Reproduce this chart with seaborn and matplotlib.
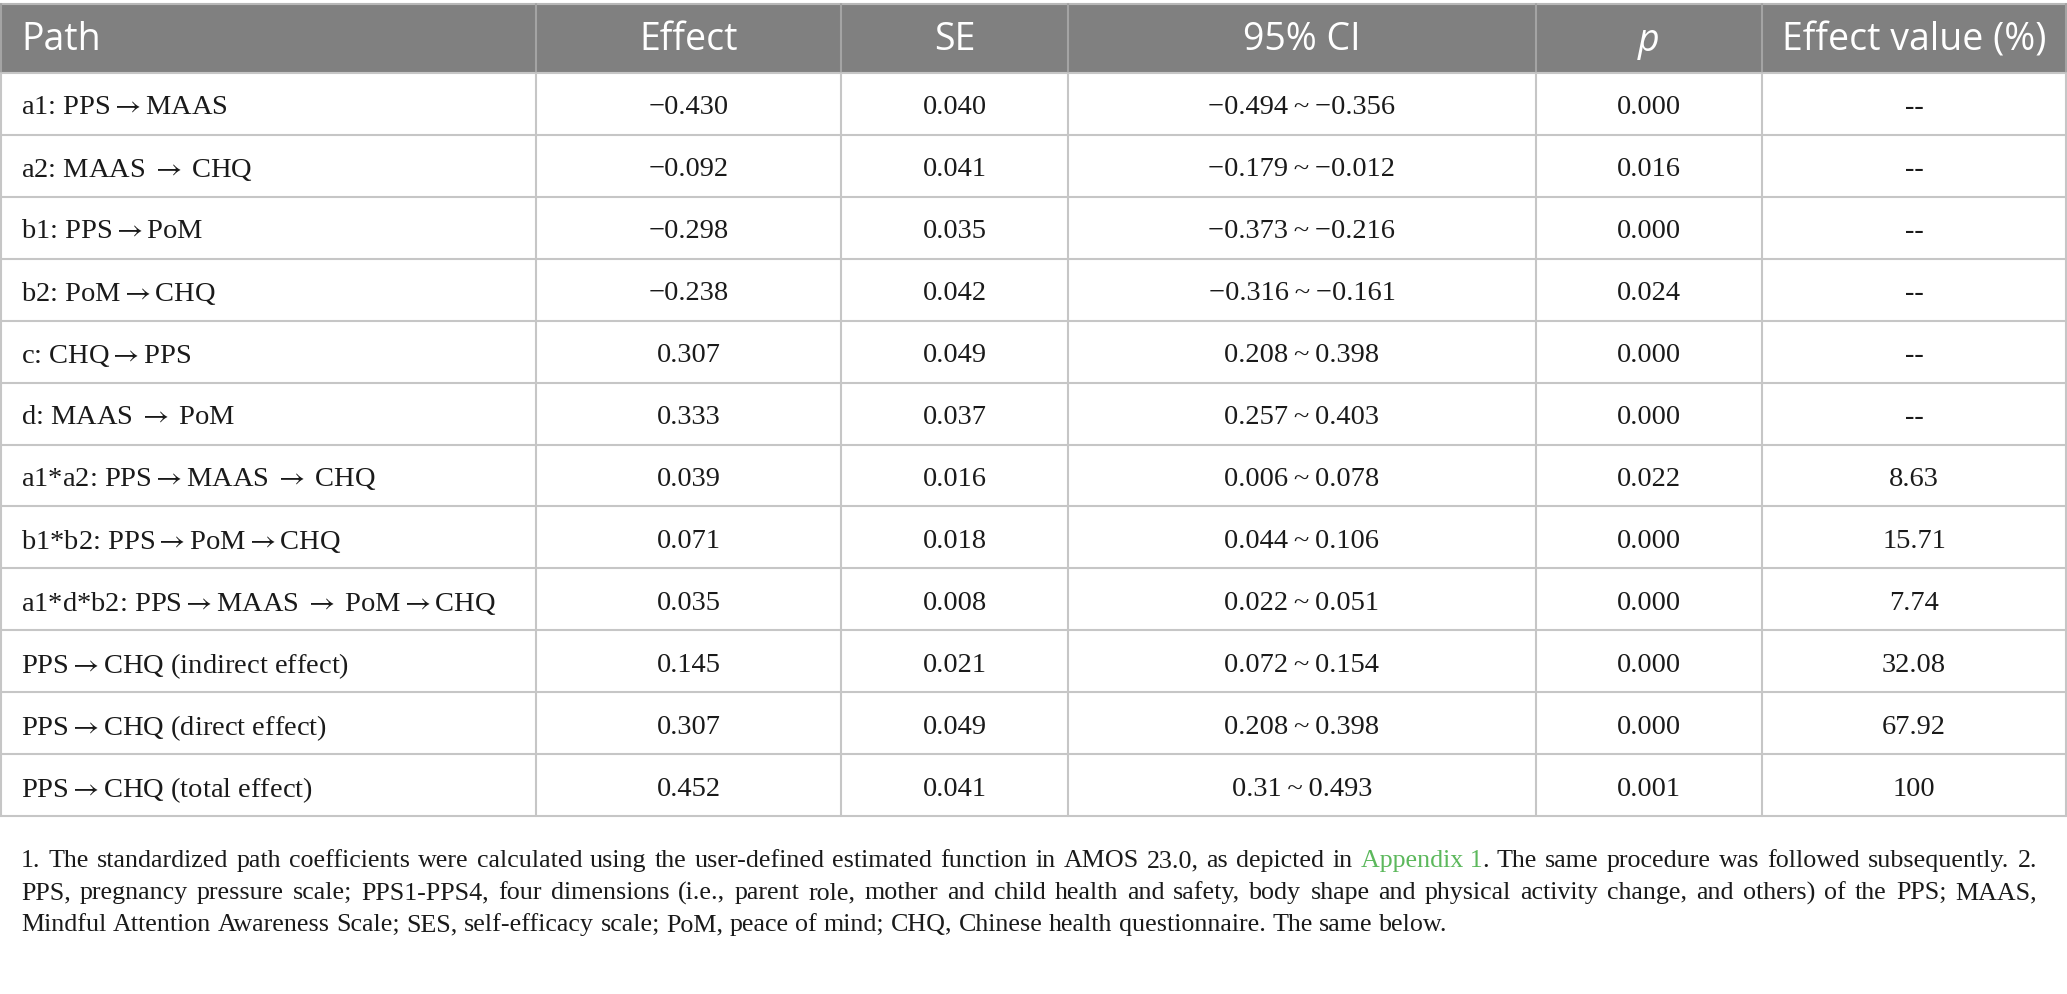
import matplotlib.pyplot as plt
import seaborn as sns
from matplotlib.patches import Rectangle

# table content
TA = "$\\rightarrow$"                 # tight arrow
WA = "\u2009$\\rightarrow$\u2009"     # wider arrow
columns = ["Path", "Effect", "SE", "95% CI", "p", "Effect value (%)"]
paths = [
    f"a1: PPS{TA}MAAS",
    f"a2: MAAS{WA}CHQ",
    f"b1: PPS{TA}PoM",
    f"b2: PoM{TA}CHQ",
    f"c: CHQ{TA}PPS",
    f"d: MAAS{WA}PoM",
    f"a1*a2: PPS{TA}MAAS{WA}CHQ",
    f"b1*b2: PPS{TA}PoM{TA}CHQ",
    f"a1*d*b2: PPS{TA}MAAS{WA}PoM{TA}CHQ",
    f"PPS{TA}CHQ (indirect effect)",
    f"PPS{TA}CHQ (direct effect)",
    f"PPS{TA}CHQ (total effect)",
]
effect = ["\u22120.430", "\u22120.092", "\u22120.298", "\u22120.238", "0.307", "0.333",
          "0.039", "0.071", "0.035", "0.145", "0.307", "0.452"]
se = ["0.040", "0.041", "0.035", "0.042", "0.049", "0.037",
      "0.016", "0.018", "0.008", "0.021", "0.049", "0.041"]
ci_low = ["\u22120.494", "\u22120.179", "\u22120.373", "\u22120.316", "0.208", "0.257",
          "0.006", "0.044", "0.022", "0.072", "0.208", "0.31"]
ci_high = ["\u22120.356", "\u22120.012", "\u22120.216", "\u22120.161", "0.398", "0.403",
           "0.078", "0.106", "0.051", "0.154", "0.398", "0.493"]
p_vals = ["0.000", "0.016", "0.000", "0.024", "0.000", "0.000",
          "0.022", "0.000", "0.000", "0.000", "0.000", "0.001"]
effect_pct = ["--", "--", "--", "--", "--", "--",
              "8.63", "15.71", "7.74", "32.08", "67.92", "100"]

footnote = [
    "1. The standardized path coefficients were calculated using the user-defined estimated "
    "function in AMOS 23.0, as depicted in [Appendix 1]. The same procedure was followed subsequently. 2.",
    "PPS, pregnancy pressure scale; PPS1-PPS4, four dimensions (i.e., parent role, mother and child "
    "health and safety, body shape and physical activity change, and others) of the PPS; MAAS,",
    "Mindful Attention Awareness Scale; SES, self-efficacy scale; PoM, peace of mind; CHQ, Chinese "
    "health questionnaire. The same below.",
]

sns.set_theme(style="white")
plt.rcParams["mathtext.fontset"] = "stix"
serif = ["Liberation Serif", "DejaVu Serif"]
sans = ["Open Sans", "DejaVu Sans"]

W, H = 2067, 995
fig = plt.figure(figsize=(W / 100, H / 100), dpi=100)
ax = fig.add_axes([0, 0, 1, 1])
ax.set_xlim(0, W)
ax.set_ylim(H, 0)
ax.axis("off")

col_edges = [1, 536, 841, 1068, 1536, 1762, 2066]
top, head_bot, bottom = 5, 74, 817
n = len(paths)
row_h = (bottom - head_bot) / n
grid = "#c6c6c6"
ink = "#1a1a1a"

# header
ax.add_patch(Rectangle((0, top), W, head_bot - top, color="#808080", lw=0))
ax.plot([0, W], [top, top], color="#b8b8b8", lw=1.5)
for i, name in enumerate(columns):
    yc = (top + head_bot) / 2 + 1
    if i == 0:
        x, ha = col_edges[0] + 20, "left"
    else:
        x, ha = (col_edges[i] + col_edges[i + 1]) / 2, "center"
    ax.text(x, yc, name, color="white", fontsize=27, family=sans, ha=ha, va="center",
            style="italic" if name == "p" else "normal")

# grid
for k in range(n + 1):
    y = head_bot + k * row_h
    ax.plot([0, W], [y, y], color=grid, lw=1.5)
for x in col_edges:
    ax.plot([x, x], [top, head_bot], color="#a4a4a4", lw=1.5)
    ax.plot([x, x], [head_bot, bottom], color=grid, lw=1.5)

# body
for r in range(n):
    yc = head_bot + (r + 0.5) * row_h
    cells = [paths[r], effect[r], se[r], ci_low[r] + "\u2009~\u2009" + ci_high[r],
             p_vals[r], effect_pct[r]]
    for i, txt in enumerate(cells):
        if i == 0:
            x, ha = col_edges[0] + 20, "left"
        else:
            x, ha = (col_edges[i] + col_edges[i + 1]) / 2, "center"
        ax.text(x, yc, txt, color=ink, fontsize=20.5, family=serif, ha=ha, va="center_baseline")

# footnote, first two lines justified
fig.canvas.draw()
renderer = fig.canvas.get_renderer()
fs = 18.7
x0, x1 = 21, 2037
line_y = [861, 893, 925]


def width_of(s):
    t = ax.text(0, 0, s, fontsize=fs, family=serif)
    w = t.get_window_extent(renderer).width
    t.remove()
    return w


for li, line in enumerate(footnote):
    words = line.split(" ")
    tokens = []
    k = 0
    while k < len(words):
        w = words[k]
        if w.startswith("["):
            nxt = words[k + 1]
            link, rest = nxt.split("]")
            tokens.append([(w[1:] + " " + link, "#5cb85c"), (rest, ink)])
            k += 2
        else:
            tokens.append([(w, ink)])
            k += 1
    widths = [sum(width_of(s) for s, _ in tok) for tok in tokens]
    space = width_of("a a") - width_of("aa")
    if li < 2:
        gap = (x1 - x0 - sum(widths)) / (len(tokens) - 1)
    else:
        gap = space
    x = x0
    for tok, w in zip(tokens, widths):
        xx = x
        for s, c in tok:
            ax.text(xx, line_y[li], s, fontsize=fs, family=serif, color=c, ha="left", va="center")
            xx += width_of(s)
        x += w + gap

fig.savefig("out.png", dpi=100)
